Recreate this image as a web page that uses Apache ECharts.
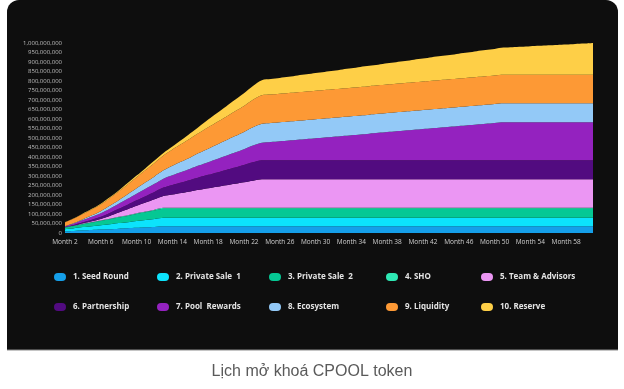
<!DOCTYPE html>
<html>
<head>
<meta charset="utf-8">
<script src="https://cdn.jsdelivr.net/npm/echarts@6/dist/echarts.min.js"></script>
<style>
html,body{margin:0;padding:0;background:#ffffff;}
#chart{width:624px;height:389px;}
</style>
</head>
<body>
<div id="chart"></div>
<script>
// ---- data (values in millions of tokens) ----
var months = ["Month 2","Month 3","Month 4","Month 5","Month 6","Month 7","Month 8","Month 9","Month 10","Month 11",
"Month 12","Month 13","Month 14","Month 15","Month 16","Month 17","Month 18","Month 19","Month 20","Month 21",
"Month 22","Month 23","Month 24","Month 25","Month 26","Month 27","Month 28","Month 29","Month 30","Month 31",
"Month 32","Month 33","Month 34","Month 35","Month 36","Month 37","Month 38","Month 39","Month 40","Month 41",
"Month 42","Month 43","Month 44","Month 45","Month 46","Month 47","Month 48","Month 49","Month 50","Month 51",
"Month 52","Month 53","Month 54","Month 55","Month 56","Month 57","Month 58","Month 59","Month 60","Month 61"];

var seedRound = [9,11,14,16,18,20,23,25,27,30,32,35,35,35,35,35,35,35,35,35,35,35,35,35,35,35,35,35,35,35,35,35,35,35,35,35,35,35,35,35,35,35,35,35,35,35,35,35,35,35,35,35,35,35,35,35,35,35,35,35];
var privateSale1 = [11,14,17,20,23,26,29,32,36,39,42,45,45,45,45,45,45,45,45,45,45,45,45,45,45,45,45,45,45,45,45,45,45,45,45,45,45,45,45,45,45,45,45,45,45,45,45,45,45,45,45,45,45,45,45,45,45,45,45,45];
var privateSale2 = [8,12,15,19,22,26,29,33,37,40,44,48,48,48,48,48,48,48,48,48,48,48,48,48,48,48,48,48,48,48,48,48,48,48,48,48,48,48,48,48,48,48,48,48,48,48,48,48,48,48,48,48,48,48,48,48,48,48,48,48];
var sho = [2,2,3,3,3,3,4,4,4,4,5,5,5,5,5,5,5,5,5,5,5,5,5,5,5,5,5,5,5,5,5,5,5,5,5,5,5,5,5,5,5,5,5,5,5,5,5,5,5,5,5,5,5,5,5,5,5,5,5,5];
var teamAdvisors = [0,0,2,4,8,15,23,31,39,47,54,62,70,78,86,94,102,110,118,126,134,142,150,150,150,150,150,150,150,150,150,150,150,150,150,150,150,150,150,150,150,150,150,150,150,150,150,150,150,150,150,150,150,150,150,150,150,150,150,150];
var partnership = [1,3,5,8,11,15,19,24,29,34,39,44,50,55,60,66,71,76,81,86,91,97,100,100,100,100,100,100,100,100,100,100,100,100,100,100,100,100,100,100,100,100,100,100,100,100,100,100,100,100,100,100,100,100,100,100,100,100,100,100];
var poolRewards = [4,8,12,15,19,23,27,31,35,39,43,47,51,55,59,63,67,71,75,79,83,88,92,96,100,104,108,112,116,120,124,128,132,136,140,144,148,152,156,160,164,168,172,176,180,184,188,192,196,200,200,200,200,200,200,200,200,200,200,200];
var ecosystem = [1,3,5,8,11,15,19,24,29,34,39,44,50,55,60,66,71,76,81,86,91,97,100,100,100,100,100,100,100,100,100,100,100,100,100,100,100,100,100,100,100,100,100,100,100,100,100,100,100,100,100,100,100,100,100,100,100,100,100,100];
var liquidity = [20,23,27,31,35,40,45,51,57,64,71,78,86,92,99,105,112,118,124,131,137,144,150,150,150,150,150,150,150,150,150,150,150,150,150,150,150,150,150,150,150,150,150,150,150,150,150,150,150,150,150,150,150,150,150,150,150,150,150,150];
var reserve = [0,1,2,3,4,5,6,8,9,10,12,13,15,21,28,34,41,47,54,60,67,73,79,81,83,85,88,90,93,95,97,100,102,105,107,109,112,114,116,119,121,124,126,128,131,133,136,138,140,143,145,147,150,152,155,157,159,162,164,167];

var seriesNames = ["1. Seed Round","2. Private Sale  1","3. Private Sale  2","4. SHO","5. Team & Advisors",
"6. Partnership","7. Pool  Rewards","8. Ecosystem","9. Liquidity","10. Reserve"];
var seriesData = [seedRound,privateSale1,privateSale2,sho,teamAdvisors,partnership,poolRewards,ecosystem,liquidity,reserve];
var yMax = 1000, yStep = 50; // millions
var caption = "Lịch mở khoá CPOOL token";

// ---- styles ----
var colors = ["#159fe9","#0ce3fc","#05c894","#2ee8b4","#eb96f3","#520b80","#9422bf","#93c9f7","#fd9935","#fecf47"];
var legendLeft = [54,157,269,386,481];
var legendRowCenter = [277,307];
var pill = "path://M4,0H8A4,4,0,0,1,8,8H4A4,4,0,0,1,4,0Z";

var legends = seriesNames.map(function(n,i){
  var col = i % 5, row = Math.floor(i/5);
  return {
    data:[n], left: legendLeft[col], top: legendRowCenter[row]-5,
    orient:'horizontal', padding:0, itemGap:0, itemWidth:12, itemHeight:8,
    icon: pill, selectedMode:false,
    textStyle:{color:'#e4e4e4', fontSize:8, fontWeight:'bold', fontFamily:'Open Sans', lineHeight:10, padding:[0,0,0,2]}
  };
});

var series = seriesNames.map(function(n,i){
  return {
    name:n, type:'line', stack:'total', data: seriesData[i],
    showSymbol:false, symbol:'none', smooth:0.3,
    lineStyle:{width:0}, itemStyle:{color:colors[i]},
    areaStyle:{color:colors[i], opacity:1}, emphasis:{disabled:true}
  };
});

var chart = echarts.init(document.getElementById('chart'), null, {renderer:'canvas'});
chart.setOption({
  animation:false,
  backgroundColor:'#ffffff',
  color: colors,
  graphic:[
    {type:'rect', z:-10, shape:{x:7,y:0,width:611,height:350,r:[12,12,0,0]}, style:{fill:'#0e0e0e'}},
    {type:'rect', z:-10, shape:{x:7,y:349.5,width:611,height:1}, style:{fill:'#8c8c8c'}},
    {type:'text', z:5, style:{text:caption, x:312, y:372, align:'center', verticalAlign:'middle',
      fontSize:16, fontFamily:'Liberation Sans', fill:'#5a5a5a'}}
  ],
  grid:{left:65, right:31, top:43, bottom:156, containLabel:false},
  legend: legends,
  xAxis:{
    type:'category', data:months, boundaryGap:false,
    axisLine:{show:false}, axisTick:{show:false}, splitLine:{show:false},
    axisLabel:{interval:3, color:'#cfcfcf', fontSize:6.5, fontFamily:'Open Sans', margin:6}
  },
  yAxis:{
    type:'value', min:0, max:yMax, interval:yStep,
    axisLine:{show:false}, axisTick:{show:false}, splitLine:{show:false},
    axisLabel:{color:'#bdbdbd', fontSize:6, fontFamily:'Open Sans', margin:3,
      formatter:function(v){ return (v*1000000).toLocaleString('en-US'); }}
  },
  series: series
});
</script>
</body>
</html>
